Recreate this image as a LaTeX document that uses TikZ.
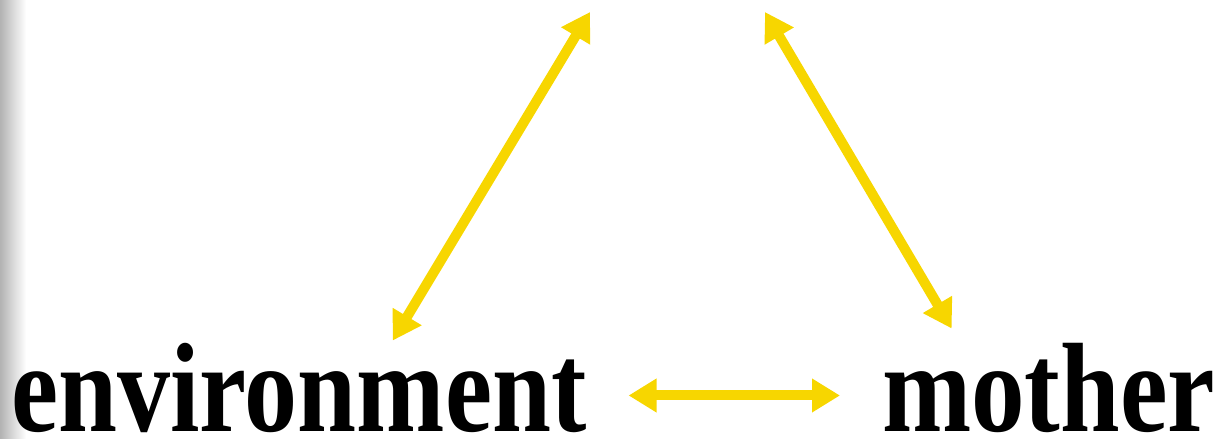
\documentclass[tikz,border=0pt]{standalone}
\usepackage{fontspec}
\setmainfont{Liberation Serif}
\usetikzlibrary{arrows.meta}
\definecolor{arrowyellow}{RGB}{247,214,0}

\begin{document}
\begin{tikzpicture}[x=1pt, y=1pt,
  word/.style={font=\fontsize{106}{110}\selectfont\bfseries, inner sep=0pt, anchor=base west},
  arrow/.style={{Triangle[length=28pt,width=32pt]}-{Triangle[length=28pt,width=32pt]}, line width=10pt, draw=arrowyellow, fill=arrowyellow}
]
\useasboundingbox (0,0) rectangle (1218,439);
\shade[left color=black!30, right color=white] (0,0) rectangle (26,439);
\node[word] (env) at (11,7) {\scalebox{1}[1.2]{environment}};
\node[word] (mother) at (882,7) {\scalebox{1.01}[1.2]{mother}};
\coordinate (topL) at (590,427);
\coordinate (topR) at (765,427);

\draw[arrow] ([xshift=94pt,yshift=3pt]env.north) -- (topL);
\draw[arrow] ([xshift=-97pt,yshift=15pt]mother.north) -- (topR);
\draw[arrow, shorten <=42pt, shorten >=42pt] ([yshift=-7pt]env.east) -- ([yshift=-7pt]mother.west);
\end{tikzpicture}
\end{document}
